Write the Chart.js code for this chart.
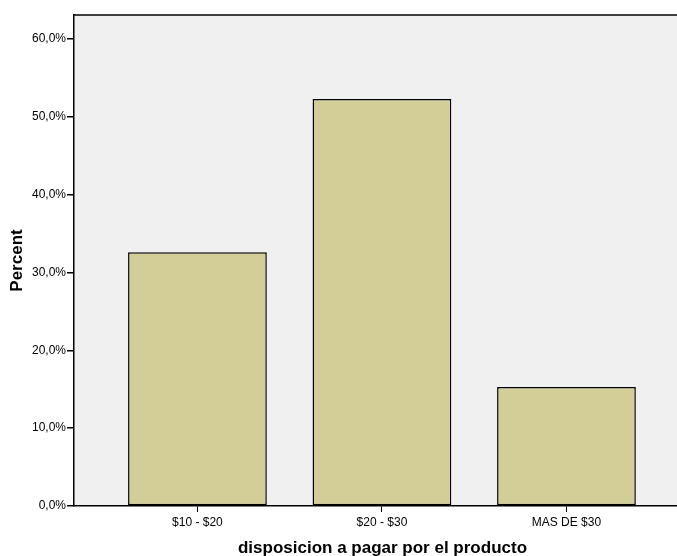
<!DOCTYPE html>
<html>
<head>
<meta charset="utf-8">
<script src="https://cdn.jsdelivr.net/npm/chart.js@4"></script>
<style>
  html, body { margin: 0; padding: 0; background: #fff; overflow: hidden; }
  #wrap { width: 677px; height: 556px; overflow: hidden; }
</style>
</head>
<body>
<div id="wrap"><canvas id="c" width="691" height="562"></canvas></div>
<script>
const categories = ['$10 - $20', '$20 - $30', 'MAS DE $30'];
const percentValues = [32.6, 52.3, 15.3];
const yTickValues = [0, 10, 20, 30, 40, 50, 60];
const xTitle = 'disposicion a pagar por el producto';
const yTitle = 'Percent';

const FONT = "'Liberation Sans', Arial, sans-serif";

const plotFrame = {
  id: 'plotFrame',
  beforeDatasetsDraw(chart) {
    const { ctx, chartArea: a } = chart;
    ctx.save();
    ctx.strokeStyle = '#000';
    ctx.lineWidth = 1.5;
    ctx.beginPath();
    ctx.moveTo(a.left, a.top);
    ctx.lineTo(a.right, a.top);
    ctx.stroke();
    ctx.restore();
  },
  beforeDraw(chart) {
    const { ctx, chartArea: a } = chart;
    ctx.save();
    ctx.fillStyle = '#F0F0F0';
    ctx.fillRect(a.left, a.top, a.right - a.left, a.bottom - a.top);
    ctx.restore();
  }
};

new Chart(document.getElementById('c'), {
  type: 'bar',
  data: {
    datasets: [{
      data: percentValues.map((v, i) => ({ x: i, y: v })),
      backgroundColor: '#D3CE97',
      borderColor: '#000',
      borderWidth: 1.5,
      borderSkipped: false,
      categoryPercentage: 1,
      barPercentage: 0.752
    }]
  },
  options: {
    responsive: false,
    animation: false,
    layout: { padding: { top: 15, right: 0, left: 0, bottom: 0 } },
    plugins: { legend: { display: false }, tooltip: { enabled: false } },
    scales: {
      x: {
        type: 'linear',
        offset: false,
        min: -0.669,
        max: 2.675,
        afterBuildTicks(scale) { scale.ticks = categories.map((c, i) => ({ value: i })); },
        afterFit(scale) { scale.height = 56; },
        ticks: {
          autoSkip: false,
          maxRotation: 0,
          padding: 3,
          color: '#000',
          font: { family: FONT, size: 12 },
          callback: (v) => categories[v]
        },
        grid: { display: true, offset: false, drawOnChartArea: false, drawTicks: true, tickLength: 6, color: '#000', lineWidth: 1 },
        border: { display: true, color: '#000', width: 1.5 },
        title: {
          display: true, text: xTitle, color: '#000',
          font: { family: FONT, size: 17, weight: 'bold' },
          padding: { top: 0, bottom: 3 }
        }
      },
      y: {
        type: 'linear',
        min: 0,
        max: 63.1,
        afterBuildTicks(scale) { scale.ticks = yTickValues.map(v => ({ value: v })); },
        afterFit(scale) { scale.width = 74; },
        ticks: {
          padding: 1,
          color: '#000',
          font: { family: FONT, size: 12 },
          callback: (v) => v.toFixed(1).replace('.', ',') + '%'
        },
        grid: { display: true, drawOnChartArea: false, drawTicks: true, tickLength: 7, color: '#000', lineWidth: 1.5 },
        border: { display: true, color: '#000', width: 1.5 },
        title: {
          display: true, text: yTitle, color: '#000',
          font: { family: FONT, size: 17, weight: 'bold' },
          padding: { top: 7, bottom: 0 }
        }
      }
    }
  },
  plugins: [plotFrame]
});
</script>
</body>
</html>
